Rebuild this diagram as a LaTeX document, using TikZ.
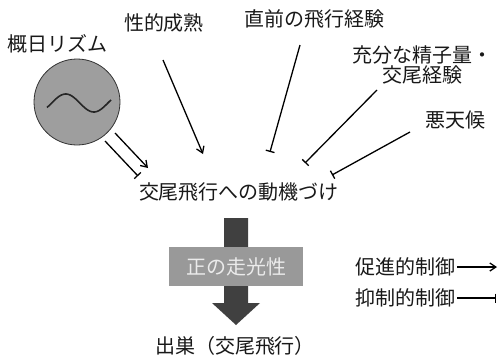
\documentclass[tikz,border=0pt]{standalone}
\usepackage{fontspec}
\newfontfamily\jp{Noto Sans CJK JP}
\usetikzlibrary{arrows.meta}
\begin{document}
\begin{tikzpicture}[x=1pt,y=-1pt,
  lbl/.style={font=\jp\fontsize{20}{23}\selectfont, inner sep=0pt, text=black!90},
  prom/.style={line width=1.3pt, -{Straight Barb[length=6pt,width=8pt]}},
  inhib/.style={line width=1.3pt, -{Bar[width=9pt,line width=1.3pt]}}]
\useasboundingbox (0,0) rectangle (499,359);
% texts
\node[lbl] (rhythm) at (58,44) {概日リズム};
\node[lbl] (sex) at (164,23) {性的成熟};
\node[lbl] (flight) at (314,19) {直前の飛行経験};
\node[lbl, align=center] (sperm) at (422,65) {充分な精子量・\\[-3pt]\hspace*{0pt}交尾経験};
\node[lbl] (weather) at (455,120) {悪天候};
\node[lbl] (motiv) at (239,192) {交尾飛行への動機づけ};
\node[lbl] (exit) at (235,346) {出巣（交尾飛行）};
\node[lbl] (lp) at (405,267) {促進的制御};
\node[lbl] (li) at (405,298) {抑制的制御};
% circle
\node[circle, draw=black!80, line width=0.8pt, fill=black!38, minimum size=86pt, inner sep=0pt] (clock) at (77,102) {};
\draw[line width=1.6pt, black!85] plot[domain=-30:380, samples=60, smooth] ({47+(\x+30)/410*64},{103-9*sin(\x)});
% arrows from circle
\coordinate (c1s) at (115,133); \coordinate (c1e) at (148,168);
\coordinate (c2s) at (105,141); \coordinate (c2e) at (138,176);
\draw[prom] (c1s) -- (c1e);
\draw[inhib] (c2s) -- (c2e);
% other arrows
\coordinate (s1) at (163,60); \coordinate (e1) at (203,154);
\draw[prom] (s1) -- (e1);
\coordinate (s2) at (300,45); \coordinate (e2) at (270,152);
\draw[inhib] (s2) -- (e2);
\coordinate (s3) at (377,90); \coordinate (e3) at (305,163);
\draw[inhib] (s3) -- (e3);
\coordinate (s4) at (410,132); \coordinate (e4) at (332,175);
\draw[inhib] (s4) -- (e4);
% big arrow
\fill[black!75] (224,218) -- (248,218) -- (248,303) -- (260,303) -- (236,325) -- (212,303) -- (224,303) -- cycle;
\node[fill=black!40, minimum width=134pt, minimum height=39pt, inner sep=0pt,
  font=\jp\fontsize{20}{23}\selectfont, text=black!8] (photo) at (236,266.5) {正の走光性};
% legend arrows
\coordinate (lpe) at (497,267); \coordinate (lie) at (496,298);
\draw[prom] (lp.east) ++(2,0) -- (lpe);
\draw[inhib] (li.east) ++(2,0) -- (lie);
\end{tikzpicture}
\end{document}
